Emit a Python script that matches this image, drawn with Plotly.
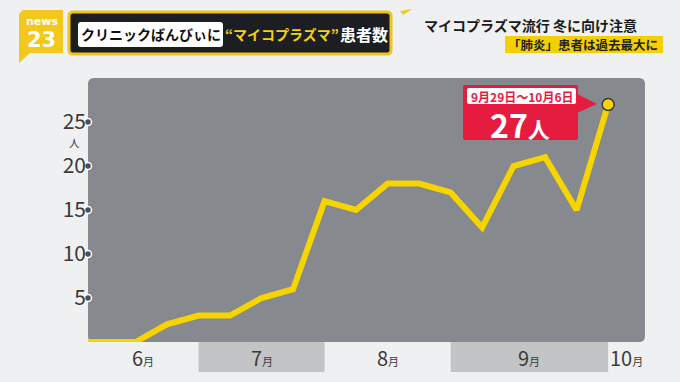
import plotly.graph_objects as go

# ---------------- data ----------------
weeks = list(range(-1, 17))
patients = [0, 0, 0, 2, 3, 3, 5, 6, 16, 15, 18, 18, 17, 13, 20, 21, 15, 27]
y_ticks = [5, 10, 15, 20, 25]
months = ["6", "7", "8", "9", "10"]
month_start = [-1, 3, 7, 11, 16]
month_end = [3, 7, 11, 16, 20]
month_shaded = [False, True, False, True, False]
callout_period = "9月29日〜10月6日"
title_parts = ["クリニックばんびぃに", "\u201cマイコプラズマ\u201d", "患者数"]
headline = "マイコプラズマ流行 冬に向け注意"
subheadline = "「肺炎」患者は過去最大に"

# ---------------- layout helpers ----------------
W, H = 680, 382
L, R, T, B = 88, 35, 78, 40
pw, ph = W - L - R, H - T - B
XMIN, XMAX = -0.508, 17.17
YMAX = 30
FONT = "Noto Sans CJK JP"


def px(x):
    return (x - L) / pw


def py(y):
    return (H - B - y) / ph


def rrect(x0, y0, x1, y1, r):
    return (f"M {px(x0 + r)},{py(y0)} L {px(x1 - r)},{py(y0)} "
            f"Q {px(x1)},{py(y0)} {px(x1)},{py(y0 + r)} L {px(x1)},{py(y1 - r)} "
            f"Q {px(x1)},{py(y1)} {px(x1 - r)},{py(y1)} L {px(x0 + r)},{py(y1)} "
            f"Q {px(x0)},{py(y1)} {px(x0)},{py(y1 - r)} L {px(x0)},{py(y0 + r)} "
            f"Q {px(x0)},{py(y0)} {px(x0 + r)},{py(y0)} Z")


def poly(pts):
    return "M " + " L ".join(f"{px(a)},{py(b)}" for a, b in pts) + " Z"


shapes = []
annotations = []

# plot area (rounded)
shapes.append(dict(type="path", xref="paper", yref="paper", path=rrect(88, 78, 645, 342, 6),
                   fillcolor="#86898d", line=dict(width=0), layer="below"))

# month bands + labels
for m, s, e, sh in zip(months, month_start, month_end, month_shaded):
    a, b = max(s, XMIN), min(e, XMAX)
    if sh:
        shapes.append(dict(type="rect", xref="x", yref="paper", x0=a, x1=b,
                           y0=py(342), y1=py(372), fillcolor="#c2c4c5",
                           line=dict(width=0), layer="below"))
    annotations.append(dict(xref="x", yref="paper", x=(a + b) / 2, y=py(357),
                            text=f"{m}<span style='font-size:11px'>月</span>",
                            showarrow=False, xanchor="center", yanchor="middle",
                            font=dict(family=FONT, size=20, color="#3c3c3c")))

# y unit
annotations.append(dict(xref="paper", yref="paper", x=px(74), y=py(142), text="人", showarrow=False,
                        xanchor="center", yanchor="middle",
                        font=dict(family=FONT, size=10.5, color="#3a3a3a")))

# callout
shapes.append(dict(type="path", xref="paper", yref="paper", path=rrect(463, 85, 578, 140, 2),
                   fillcolor="#e51c3f", line=dict(width=0)))
shapes.append(dict(type="path", xref="paper", yref="paper",
                   path=poly([(577, 94), (597, 104), (577, 113)]),
                   fillcolor="#e51c3f", line=dict(width=0)))
shapes.append(dict(type="path", xref="paper", yref="paper", path=rrect(467, 88, 576, 104, 2),
                   fillcolor="#ffffff", line=dict(width=0)))
annotations.append(dict(xref="paper", yref="paper", x=px(521.5), y=py(96),
                        text=f"<b>{callout_period}</b>", showarrow=False,
                        xanchor="center", yanchor="middle",
                        font=dict(family=FONT, size=12, color="#e51c3f")))
annotations.append(dict(xref="paper", yref="paper", x=px(520), y=py(124),
                        text=f"<b>{patients[-1]}<span style='font-size:22px'>人</span></b>",
                        showarrow=False, xanchor="center", yanchor="middle",
                        font=dict(family=FONT, size=32, color="#ffffff")))

# header: logo
shapes.append(dict(type="path", xref="paper", yref="paper",
                   path=poly([(23, 10), (63, 10), (63, 53), (30, 53), (19, 63), (19, 14)]),
                   fillcolor="#f3c81a", line=dict(width=0)))
annotations.append(dict(xref="paper", yref="paper", x=px(41.5), y=py(22), text="<b>news</b>",
                        showarrow=False, xanchor="center", yanchor="middle",
                        font=dict(family="DejaVu Sans", size=11, color="#ffffff")))
annotations.append(dict(xref="paper", yref="paper", x=px(41.5), y=py(40), text="<b>23</b>",
                        showarrow=False, xanchor="center", yanchor="middle",
                        font=dict(family="DejaVu Sans", size=21, color="#ffffff")))

# header: title box
shapes.append(dict(type="path", xref="paper", yref="paper", path=rrect(69, 12, 391, 54, 4),
                   fillcolor="#1c1e23", line=dict(color="#f0c419", width=3)))
shapes.append(dict(type="path", xref="paper", yref="paper", path=rrect(78, 22, 223, 47, 3),
                   fillcolor="#ffffff", line=dict(width=0)))
annotations.append(dict(xref="paper", yref="paper", x=px(150.5), y=py(34.5),
                        text=f"<b>{title_parts[0]}</b>", showarrow=False,
                        xanchor="center", yanchor="middle",
                        font=dict(family=FONT, size=14, color="#111111")))
annotations.append(dict(xref="paper", yref="paper", x=px(282), y=py(34.5),
                        text=f"<b>{title_parts[1]}</b>", showarrow=False,
                        xanchor="center", yanchor="middle",
                        font=dict(family="Noto Sans CJK JP", size=14, color="#f5d20a")))
annotations.append(dict(xref="paper", yref="paper", x=px(364), y=py(34.5),
                        text=f"<b>{title_parts[2]}</b>", showarrow=False,
                        xanchor="center", yanchor="middle",
                        font=dict(family=FONT, size=16, color="#ffffff")))

# header: right headline
shapes.append(dict(type="path", xref="paper", yref="paper",
                   path=poly([(400, 11), (412, 9), (403, 15)]),
                   fillcolor="#f3c81a", line=dict(width=0)))
annotations.append(dict(xref="paper", yref="paper", x=px(530), y=py(25),
                        text=f"<b>{headline}</b>", showarrow=False,
                        xanchor="center", yanchor="middle",
                        font=dict(family=FONT, size=14, color="#1a1a1a")))
shapes.append(dict(type="rect", xref="paper", yref="paper", x0=px(505), x1=px(663),
                   y0=py(53), y1=py(36), fillcolor="#f5d000", line=dict(width=0)))
annotations.append(dict(xref="paper", yref="paper", x=px(583), y=py(44.5),
                        text=f"<b>{subheadline}</b>", showarrow=False,
                        xanchor="center", yanchor="middle",
                        font=dict(family=FONT, size=12.5, color="#222222")))

fig = go.Figure()
fig.add_trace(go.Scatter(x=weeks, y=patients, mode="lines",
                         line=dict(color="#f6d400", width=6), hoverinfo="skip"))
fig.add_trace(go.Scatter(x=[weeks[-1]], y=[patients[-1]], mode="markers", cliponaxis=False,
                         marker=dict(size=12, color="#f6d400", line=dict(color="#3a3a3a", width=1.5))))
fig.add_trace(go.Scatter(x=[XMIN] * len(y_ticks), y=y_ticks, mode="markers", cliponaxis=False,
                         marker=dict(size=7, color="#4b4e53", line=dict(color="#ffffff", width=1.5))))

fig.update_layout(
    width=W, height=H, margin=dict(l=L, r=R, t=T, b=B, pad=0),
    paper_bgcolor="#eef0f1", plot_bgcolor="rgba(0,0,0,0)",
    showlegend=False, shapes=shapes, annotations=annotations,
    xaxis=dict(range=[XMIN, XMAX], showgrid=False, zeroline=False, showticklabels=False,
               showline=False, fixedrange=True),
    yaxis=dict(range=[0, YMAX], showgrid=False, zeroline=False, showline=False,
               tickvals=y_ticks, ticks="", ticklabelstandoff=1,
               tickfont=dict(family=FONT, size=21, color="#3a3a3a"), fixedrange=True),
)

fig.write_html("out.html")
